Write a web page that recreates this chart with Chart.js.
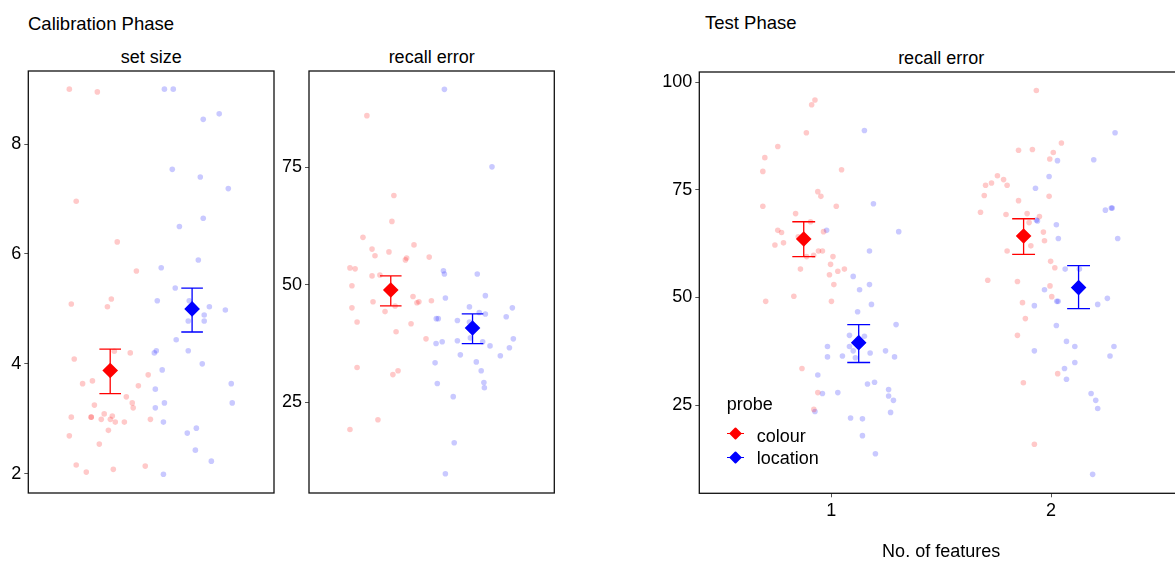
<!DOCTYPE html>
<html>
<head>
<meta charset="utf-8">
<title>Calibration and test phase</title>
<script src="https://cdn.jsdelivr.net/npm/chart.js@4.4.1/dist/chart.umd.min.js"></script>
<style>
  html, body { margin: 0; padding: 0; background: #fff; }
  body { width: 1175px; height: 563px; overflow: hidden; position: relative;
         font-family: "Liberation Sans", Arial, Helvetica, sans-serif; color: #000; }
  canvas { position: absolute; }
  .lbl { position: absolute; font-size: 18px; line-height: 22px; white-space: nowrap; }
  .title { font-size: 18.5px; }
  .strip { text-align: center; }
  .key-line { position: absolute; width: 17px; height: 1.3px; }
  .key-dot { position: absolute; width: 9px; height: 9px; transform: rotate(45deg); border-radius: 1px; }
</style>
</head>
<body>

<div class="lbl title" style="left:28px; top:13px;">Calibration Phase</div>
<div class="lbl title" style="left:705px; top:12px;">Test Phase</div>

<div class="lbl strip" style="left:28.3px; width:245.7px; top:46px;">set size</div>
<div class="lbl strip" style="left:309px; width:245.3px; top:46px;">recall error</div>
<div class="lbl strip" style="left:699.3px; width:483.7px; top:46.5px;">recall error</div>

<canvas id="setSize" width="290" height="462" style="left:0; top:51px;"></canvas>
<canvas id="recallCal" width="290" height="462" style="left:280px; top:51px;"></canvas>
<canvas id="recallTest" width="560" height="511" style="left:640px; top:52px;"></canvas>

<!-- legend -->
<div class="lbl" style="left:726.7px; top:393px;">probe</div>
<div class="key-line" style="left:727px; top:432.7px; background:#FF0000;"></div>
<div class="key-dot" style="left:731.2px; top:428.8px; background:#FF0000;"></div>
<div class="lbl" style="left:756.7px; top:424.5px;">colour</div>
<div class="key-line" style="left:727px; top:457px; background:#0000FF;"></div>
<div class="key-dot" style="left:731.2px; top:453.1px; background:#0000FF;"></div>
<div class="lbl" style="left:756.7px; top:447px;">location</div>

<script>
// ---- data ----
const probes = ['colour', 'location'];
const calibPos = [1 / 3, 2 / 3];   // x slot of each probe in the calibration panels
const features = [1, 2];
const dodge = [-0.125, 0.125];

const setSizeTicks = [2, 4, 6, 8];
const recallCalTicks = [25, 50, 75];
const testTicks = [25, 50, 75, 100];

const setSizeMean = [3.88, 5.00];
const setSizeLow = [3.46, 4.58];
const setSizeHigh = [4.27, 5.38];

const recallCalMean = [48.9, 40.8];
const recallCalLow = [45.5, 37.5];
const recallCalHigh = [51.9, 43.8];

const testColourMean = [63.6, 64.3];
const testColourLow = [59.5, 60.0];
const testColourHigh = [67.6, 68.3];
const testLocationMean = [39.5, 52.3];
const testLocationLow = [34.9, 47.4];
const testLocationHigh = [43.7, 57.4];

// individual participants, [jittered x, value]
const setSizeColour = [
  [0.167, 9.0], [0.281, 8.95], [0.195, 6.96], [0.362, 6.22], [0.440, 5.69], [0.175, 5.09],
  [0.338, 5.18], [0.322, 5.04], [0.187, 4.09], [0.350, 4.23], [0.415, 4.20], [0.488, 3.80],
  [0.221, 3.64], [0.261, 3.69], [0.448, 3.60], [0.399, 3.40], [0.269, 3.25], [0.423, 3.29],
  [0.427, 3.20], [0.175, 3.03], [0.256, 3.03], [0.256, 3.03], [0.309, 3.09], [0.342, 3.05],
  [0.297, 2.99], [0.334, 2.99], [0.354, 2.94], [0.391, 2.94], [0.497, 2.99], [0.326, 2.79],
  [0.167, 2.69], [0.289, 2.54], [0.195, 2.16], [0.236, 2.03], [0.346, 2.08], [0.476, 2.14]
];
const setSizeLocation = [
  [0.554, 9.0], [0.590, 9.0], [0.777, 8.55], [0.712, 8.45], [0.586, 7.54], [0.700, 7.40],
  [0.814, 7.19], [0.712, 6.65], [0.615, 6.50], [0.692, 5.89], [0.541, 5.75], [0.598, 5.38],
  [0.525, 5.15], [0.655, 5.15], [0.737, 5.04], [0.802, 4.98], [0.716, 4.89], [0.651, 4.78],
  [0.716, 4.78], [0.602, 4.44], [0.521, 4.24], [0.513, 4.20], [0.651, 4.24], [0.708, 4.00],
  [0.545, 3.89], [0.517, 3.54], [0.826, 3.64], [0.554, 3.29], [0.830, 3.29], [0.517, 3.20],
  [0.550, 2.94], [0.684, 2.83], [0.647, 2.74], [0.680, 2.43], [0.745, 2.23], [0.550, 1.99]
];
const recallCalColour = [
  [0.236, 86.0], [0.346, 69.0], [0.338, 63.5], [0.220, 60.1], [0.428, 58.5], [0.257, 57.6],
  [0.269, 56.2], [0.326, 57.0], [0.398, 55.7], [0.393, 55.3], [0.490, 55.9], [0.167, 53.6],
  [0.188, 53.4], [0.257, 51.9], [0.289, 52.1], [0.175, 49.8], [0.261, 46.4], [0.424, 47.5],
  [0.440, 46.2], [0.448, 46.4], [0.499, 46.6], [0.175, 45.1], [0.351, 45.5], [0.310, 44.3],
  [0.196, 42.1], [0.416, 41.7], [0.355, 40.0], [0.477, 38.5], [0.196, 32.4], [0.363, 31.7],
  [0.342, 30.9], [0.281, 21.3], [0.167, 19.2]
];
const recallCalLocation = [
  [0.552, 91.6], [0.746, 75.1], [0.548, 53.0], [0.552, 52.3], [0.686, 52.3], [0.719, 47.7],
  [0.556, 47.2], [0.654, 45.3], [0.829, 45.1], [0.694, 44.1], [0.719, 43.8], [0.519, 42.8],
  [0.527, 42.8], [0.804, 43.2], [0.605, 42.4], [0.654, 42.1], [0.658, 38.7], [0.833, 38.5],
  [0.543, 37.9], [0.605, 38.1], [0.708, 37.9], [0.518, 37.5], [0.738, 37.0], [0.817, 36.6],
  [0.617, 35.1], [0.780, 34.9], [0.514, 33.4], [0.682, 33.6], [0.702, 31.7], [0.523, 29.0],
  [0.713, 29.2], [0.715, 28.1], [0.588, 26.2], [0.592, 16.4], [0.556, 9.8]
];
const testColour = [
  [0.926, 95.9], [0.911, 94.8], [0.887, 88.3], [0.757, 85.1], [0.698, 82.5], [0.689, 79.3],
  [1.047, 79.7], [0.939, 74.6], [0.953, 73.5], [0.689, 71.2], [1.023, 71.2], [0.838, 69.5],
  [0.906, 67.6], [0.757, 65.6], [0.774, 65.1], [0.965, 65.3], [0.783, 62.7], [0.744, 62.2],
  [0.850, 64.1], [0.920, 59.8], [0.888, 59.5], [0.942, 60.8], [0.960, 60.8], [1.008, 59.5],
  [0.997, 57.7], [0.860, 56.6], [1.060, 56.6], [1.030, 56.1], [0.992, 55.3], [1.012, 53.0],
  [0.830, 50.3], [0.702, 49.1], [1.001, 49.1], [0.867, 33.5], [0.939, 27.9], [0.921, 24.0],
  [1.933, 98.1], [2.047, 85.9], [2.010, 83.7], [1.994, 82.2], [1.852, 84.2], [1.915, 84.4],
  [1.756, 78.3], [1.784, 77.4], [1.729, 76.6], [1.702, 76.1], [1.800, 76.1], [1.696, 73.7],
  [1.852, 72.5], [1.991, 73.5], [1.679, 69.8], [1.795, 69.3], [1.891, 69.5], [1.947, 68.8],
  [1.900, 67.4], [1.965, 65.2], [1.970, 63.2], [1.908, 62.0], [1.800, 60.8], [1.998, 58.4],
  [2.017, 56.9], [1.712, 54.0], [1.847, 53.7], [1.995, 52.7], [2.003, 50.2], [1.870, 48.8],
  [1.883, 45.1], [1.847, 41.2], [2.030, 32.3], [1.874, 30.2], [1.924, 15.9]
];
const testLocation = [
  [1.151, 88.8], [1.192, 71.8], [1.307, 65.3], [0.979, 65.6], [1.174, 60.8], [1.100, 54.9],
  [1.174, 53.0], [1.129, 51.8], [1.183, 48.4], [1.120, 46.7], [1.295, 43.7], [1.083, 41.2],
  [1.151, 41.0], [0.983, 38.6], [1.083, 38.6], [1.100, 37.6], [1.177, 37.1], [1.247, 37.6],
  [0.983, 36.2], [1.051, 36.4], [1.110, 36.0], [1.288, 36.2], [0.939, 32.0], [1.165, 29.9],
  [1.197, 30.3], [0.960, 27.7], [1.030, 27.9], [1.261, 28.6], [1.261, 27.1], [1.283, 26.1],
  [0.926, 23.5], [1.270, 23.3], [1.088, 22.0], [1.142, 21.8], [1.142, 17.9], [1.201, 13.7],
  [2.291, 88.3], [2.194, 82.0], [2.029, 81.8], [1.991, 78.1], [1.929, 75.4], [2.247, 70.3],
  [2.278, 70.8], [2.274, 70.8], [1.933, 68.0], [1.938, 67.8], [2.024, 66.9], [2.033, 63.7],
  [2.303, 63.7], [2.064, 56.6], [2.129, 56.6], [1.970, 51.8], [2.026, 49.1], [2.032, 49.1],
  [2.256, 49.8], [2.212, 48.4], [1.924, 48.1], [2.024, 43.5], [2.070, 39.8], [2.108, 38.6],
  [2.286, 38.6], [2.268, 36.4], [1.924, 37.6], [2.108, 34.9], [2.061, 33.5], [2.070, 31.0],
  [2.182, 27.7], [2.203, 26.1], [2.212, 24.2], [2.189, 8.9]
];

// ---- styling ----
const FONT = '"Liberation Sans", Arial, Helvetica, sans-serif';
Chart.defaults.font.family = FONT;
Chart.defaults.color = '#000';

const RED = '#FF0000';
const BLUE = '#0000FF';
const RED_PT = 'rgba(255,0,0,0.21)';
const BLUE_PT = 'rgba(0,0,255,0.21)';

function pts(pairs) {
  return pairs.map(([x, y]) => ({ x, y }));
}

function jitterSet(pairs, color) {
  return {
    data: pts(pairs), backgroundColor: color, borderWidth: 0,
    pointRadius: 2.8, pointHoverRadius: 2.8, order: 2
  };
}

function meanSet(points, color) {
  return {
    data: points, backgroundColor: color, borderColor: color, borderWidth: 2,
    pointStyle: 'rectRot', pointRadius: 6.4, pointHoverRadius: 6.4, order: 1
  };
}

function yAxis(min, max, ticks, width) {
  return {
    type: 'linear', min, max,
    afterBuildTicks: s => { s.ticks = ticks.map(v => ({ value: v })); },
    afterFit: s => { s.width = width; },
    grid: { drawOnChartArea: false, tickLength: 4, color: '#555', lineWidth: 1 },
    border: { display: false },
    ticks: { color: '#000', font: { size: 18 }, padding: 3 }
  };
}

// panel border, drawn over the marks like a ggplot panel.border
const frame = {
  id: 'frame',
  afterDatasetsDraw(chart) {
    const { ctx, chartArea: a } = chart;
    ctx.save();
    ctx.strokeStyle = '#111';
    ctx.lineWidth = 1.3;
    ctx.strokeRect(a.left, a.top, a.right - a.left, a.bottom - a.top);
    ctx.restore();
  }
};

// mean +/- interval whiskers with caps
function errorBars(bars, halfCap) {
  return {
    id: 'errorBars',
    afterDatasetsDraw(chart) {
      const { ctx, scales: { x, y } } = chart;
      ctx.save();
      ctx.lineWidth = 1.3;
      bars.forEach(b => {
        const px = x.getPixelForValue(b.x);
        const l = x.getPixelForValue(b.x - halfCap);
        const r = x.getPixelForValue(b.x + halfCap);
        const top = y.getPixelForValue(b.hi);
        const bot = y.getPixelForValue(b.lo);
        ctx.strokeStyle = b.color;
        ctx.beginPath();
        ctx.moveTo(px, top); ctx.lineTo(px, bot);
        ctx.moveTo(l, top); ctx.lineTo(r, top);
        ctx.moveTo(l, bot); ctx.lineTo(r, bot);
        ctx.stroke();
      });
      ctx.restore();
    }
  };
}

const colors = [RED, BLUE];

function calibPanel(id, colourPts, locationPts, mean, low, high, yMin, yMax, ticks, axisW, padRight) {
  const bars = probes.map((p, i) => ({ x: calibPos[i], lo: low[i], hi: high[i], color: colors[i] }));
  new Chart(document.getElementById(id), {
    type: 'scatter',
    data: {
      datasets: [
        jitterSet(colourPts, RED_PT),
        jitterSet(locationPts, BLUE_PT),
        ...probes.map((p, i) => meanSet([{ x: calibPos[i], y: mean[i] }], colors[i]))
      ]
    },
    options: {
      responsive: false, animation: false, events: [],
      layout: { autoPadding: false, padding: { top: 20, right: padRight, bottom: 20, left: 0 } },
      plugins: { legend: { display: false }, tooltip: { enabled: false } },
      scales: {
        x: { type: 'linear', min: 0, max: 1, display: false },
        y: yAxis(yMin, yMax, ticks, axisW)
      }
    },
    plugins: [errorBars(bars, 0.044), frame]
  });
}

calibPanel('setSize', setSizeColour, setSizeLocation, setSizeMean, setSizeLow, setSizeHigh,
  1.65, 9.33, setSizeTicks, 28.3, 16);
calibPanel('recallCal', recallCalColour, recallCalLocation, recallCalMean, recallCalLow, recallCalHigh,
  5.7, 95.5, recallCalTicks, 29, 15.7);

// test phase: probes dodged around each feature count
const testMeans = [testColourMean, testLocationMean];
const testLows = [testColourLow, testLocationLow];
const testHighs = [testColourHigh, testLocationHigh];
const testBars = [];
probes.forEach((p, i) => {
  features.forEach((f, j) => {
    testBars.push({ x: f + dodge[i], lo: testLows[i][j], hi: testHighs[i][j], color: colors[i] });
  });
});

new Chart(document.getElementById('recallTest'), {
  type: 'scatter',
  data: {
    datasets: [
      jitterSet(testColour, RED_PT),
      jitterSet(testLocation, BLUE_PT),
      ...probes.map((p, i) => meanSet(features.map((f, j) => ({ x: f + dodge[i], y: testMeans[i][j] })), colors[i]))
    ]
  },
  options: {
    responsive: false, animation: false, events: [],
    layout: { autoPadding: false, padding: { top: 20, right: 17, bottom: 0, left: 0 } },
    plugins: { legend: { display: false }, tooltip: { enabled: false } },
    scales: {
      x: {
        type: 'linear', min: 0.4, max: 2.6,
        afterBuildTicks: s => { s.ticks = features.map(v => ({ value: v })); },
        afterFit: s => { s.height = 69.7; },
        grid: { drawOnChartArea: false, tickLength: 4, color: '#555', lineWidth: 1 },
        border: { display: false },
        ticks: { color: '#000', font: { size: 18 }, padding: 3 },
        title: { display: true, text: 'No. of features', color: '#000', font: { size: 18 }, padding: 0 }
      },
      y: yAxis(4.5, 102.4, testTicks, 59.3)
    }
  },
  plugins: [errorBars(testBars, 0.052), frame]
});
</script>
</body>
</html>
